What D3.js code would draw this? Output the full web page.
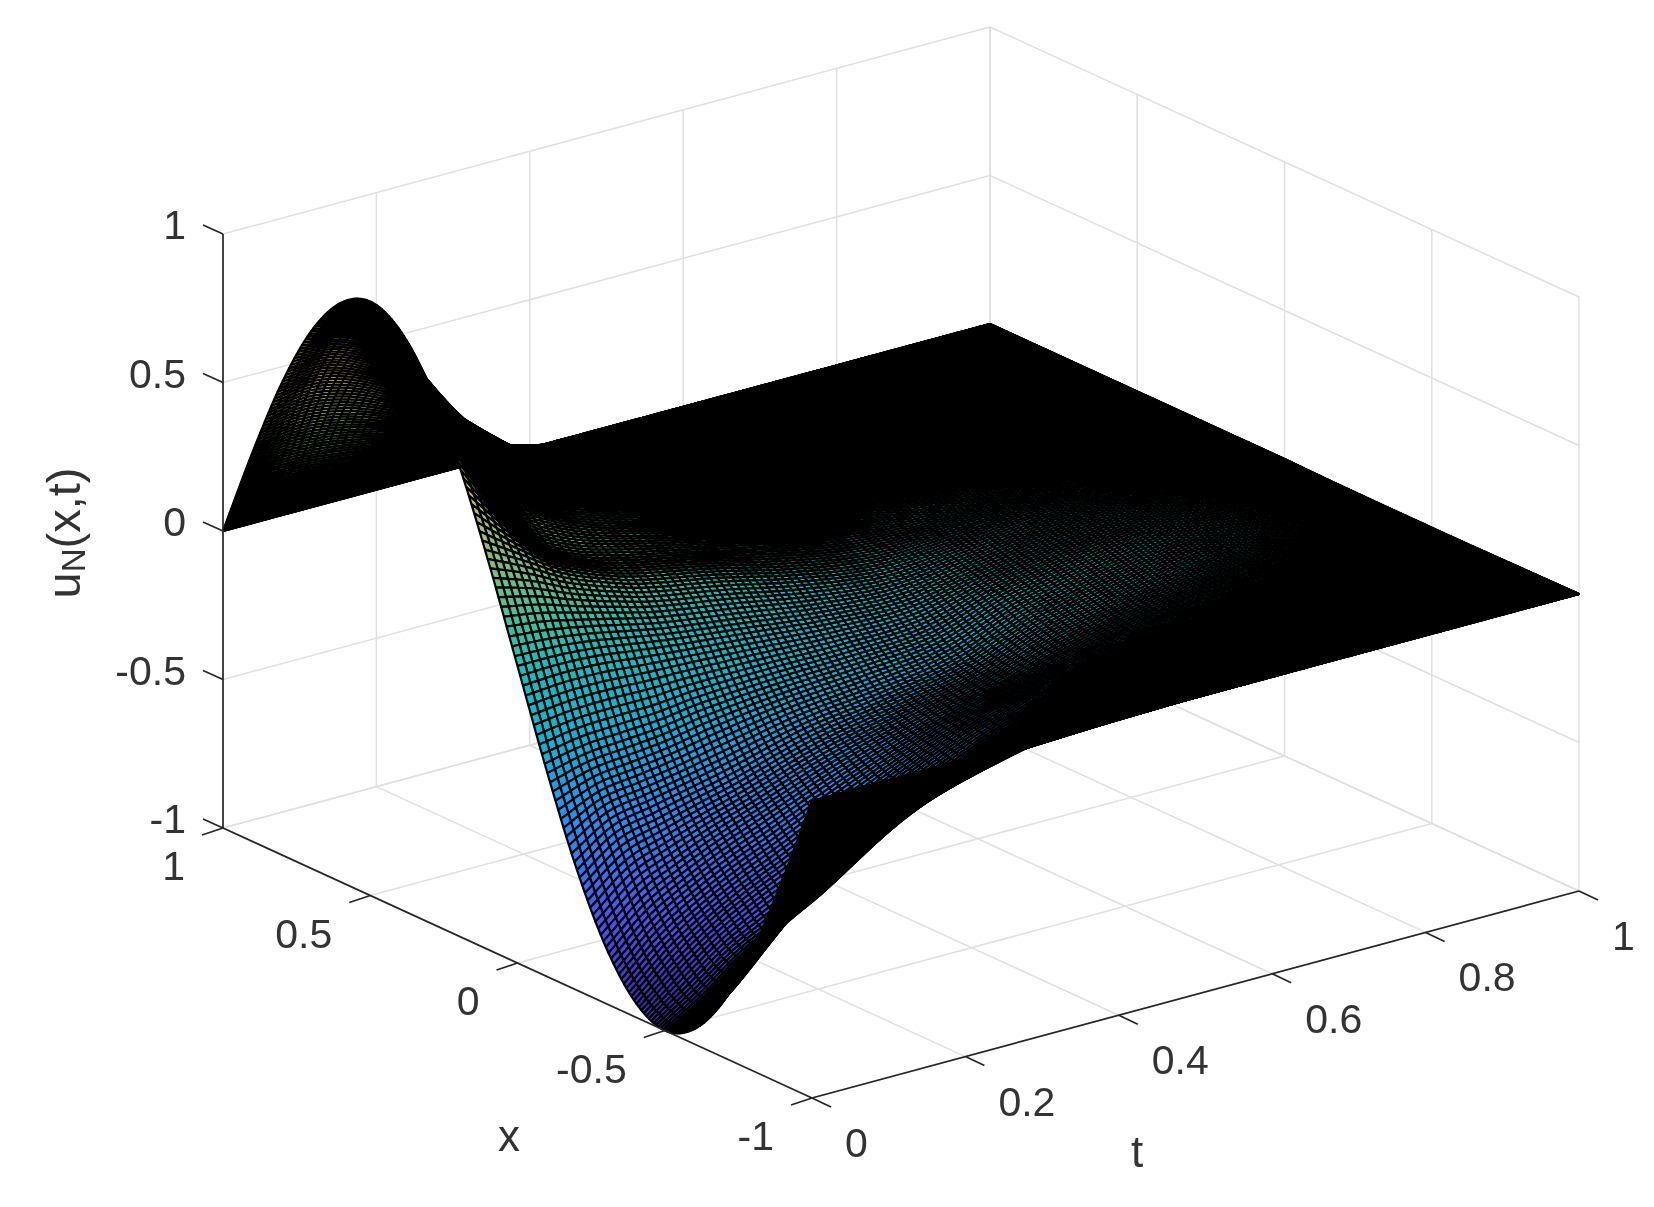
<!DOCTYPE html>
<html><head><meta charset="utf-8">
<script src="https://cdn.jsdelivr.net/npm/d3@7"></script>
<style>html,body{margin:0;padding:0;background:#fff}svg{display:block;filter:blur(.6px)}text{font-family:"Liberation Sans",Arial,sans-serif;fill:#333}</style>
</head><body><svg id="c" width="1654" height="1207"></svg>
<script>
const xValues=[1,.9,.8,.7,.6,.5,.4,.3,.2,.1,0,-.1,-.2,-.3,-.4,-.5,-.6,-.7,-.8,-.9,-1];
const tValues=[0,.05,.1,.15,.2,.3,.4,.5,.6,.8,1];
const uRows=[
[0,.31,.59,.81,.95,1,.95,.81,.59,.31,0,-.31,-.59,-.81,-.95,-1,-.95,-.81,-.59,-.31,0],
[0,.33,.60,.78,.85,.76,.64,.53,.40,.25,0,-.28,-.5,-.7,-.84,-.92,-.85,-.66,-.46,-.26,0],
[0,.32,.56,.68,.66,.56,.46,.36,.26,.18,-.01,-.27,-.47,-.63,-.75,-.82,-.72,-.55,-.36,-.18,0],
[0,.29,.48,.50,.48,.41,.33,.27,.19,.13,-.03,-.26,-.44,-.57,-.68,-.75,-.60,-.44,-.27,-.13,0],
[0,.25,.37,.37,.34,.28,.26,.21,.15,.09,-.05,-.24,-.41,-.52,-.62,-.68,-.52,-.36,-.21,-.10,0],
[0,.13,.16,.17,.14,.15,.16,.13,.09,.04,-.08,-.22,-.34,-.42,-.48,-.50,-.40,-.28,-.17,-.09,0],
[0,.06,.07,.06,.05,.06,.07,.06,.03,-.02,-.11,-.21,-.30,-.34,-.36,-.37,-.32,-.23,-.15,-.08,0],
[0,.03,.04,.03,.02,.01,.01,0,-.02,-.06,-.12,-.19,-.25,-.27,-.27,-.27,-.25,-.19,-.12,-.07,0],
[0,.02,.02,.01,.005,0,0,-.01,-.03,-.05,-.08,-.11,-.15,-.18,-.19,-.19,-.18,-.15,-.1,-.05,0],
[0,.005,.005,0,0,0,0,0,0,-.005,-.012,-.025,-.045,-.065,-.075,-.08,-.075,-.06,-.04,-.02,0],
[0,0,0,0,0,0,0,0,0,0,0,-.002,-.003,-.004,-.004,-.004,-.004,-.003,-.002,-.001,0]];
const xTicks=[1,.5,0,-.5,-1], xTickLabels=["1","0.5","0","-0.5","-1"];
const tTicks=[0,.2,.4,.6,.8,1], tTickLabels=["0","0.2","0.4","0.6","0.8","1"];
const zTicks=[1,.5,0,-.5,-1], zTickLabels=["1","0.5","0","-0.5","-1"];
const parulaStops=["#3e26a8","#4852f4","#2e87f7","#12b1d6","#1abfb8","#71bf80","#cbbd54","#feC338","#f9fb15"];

const sx=d3.scaleLinear().domain([1,-1]).range([0,1]);
const st=d3.scaleLinear().domain([0,1]).range([0,1]);
const sz=d3.scaleLinear().domain([-1,1]).range([0,1]);
const O=[223,828],VX=[589,270],VT=[767,-207],VZ=[0,-594];
const P=(x,t,z)=>[O[0]+sx(x)*VX[0]+st(t)*VT[0]+sz(z)*VZ[0],O[1]+sx(x)*VX[1]+st(t)*VT[1]+sz(z)*VZ[1]];
const color=d3.scaleLinear().domain(parulaStops.map((_,i)=>-1+2*i/(parulaStops.length-1))).range(parulaStops).interpolate(d3.interpolateRgb);

function cubic(xs,ys,v){
  let i=Math.min(d3.bisectRight(xs,v)-1,xs.length-2);if(i<0)i=0;
  const tan=k=>k===0?(ys[1]-ys[0])/(xs[1]-xs[0]):k===xs.length-1?(ys[k]-ys[k-1])/(xs[k]-xs[k-1]):(ys[k+1]-ys[k-1])/(xs[k+1]-xs[k-1]);
  const h=xs[i+1]-xs[i],s=(v-xs[i])/h,s2=s*s,s3=s2*s;
  return (2*s3-3*s2+1)*ys[i]+(s3-2*s2+s)*h*tan(i)+(-2*s3+3*s2)*ys[i+1]+(s3-s2)*h*tan(i+1);
}
const NX=340,NT=160;
const xAsc=xValues.slice().reverse();
const meshX=d3.range(NX+1).map(i=>Math.cos(Math.PI*i/NX));
const meshT=d3.range(NT+1).map(j=>Math.sin(Math.PI/2*(NT-j)/NT));
const Z=meshX.map(()=>[]);
meshT.forEach((t,j)=>{
  const rowAsc=xAsc.map((_,k)=>cubic(tValues,uRows.map(r=>r[xValues.length-1-k]),t));
  meshX.forEach((x,i)=>{Z[i][j]=cubic(xAsc,rowAsc,x);});
});
const cells=[];
for(let i=0;i<NX;i++)for(let j=0;j<NT;j++)cells.push({i,j});

const svg=d3.select("#c");
const grid=svg.append("g").attr("stroke","#e0e0e0").attr("stroke-width",1.5).attr("fill","none");
const gl=(a,b)=>grid.append("line").attr("x1",a[0]).attr("y1",a[1]).attr("x2",b[0]).attr("y2",b[1]);
zTicks.forEach(z=>{gl(P(1,0,z),P(1,1,z));gl(P(1,1,z),P(-1,1,z));});
tTicks.forEach(t=>{gl(P(1,t,-1),P(1,t,1));gl(P(1,t,-1),P(-1,t,-1));});
xTicks.forEach(x=>{gl(P(x,1,-1),P(x,1,1));gl(P(x,0,-1),P(x,1,-1));});

const L=d3.line();
svg.append("g").selectAll("path").data(cells).join("path")
 .attr("d",c=>{const xa=meshX[c.i],xb=meshX[c.i+1],ta=meshT[c.j],tb=meshT[c.j+1];
   return L([P(xa,ta,Z[c.i][c.j]),P(xa,tb,Z[c.i][c.j+1]),P(xb,tb,Z[c.i+1][c.j+1]),P(xb,ta,Z[c.i+1][c.j])])+"Z";})
 .attr("fill",c=>color((Z[c.i][c.j]+Z[c.i][c.j+1]+Z[c.i+1][c.j+1]+Z[c.i+1][c.j])/4))
 .attr("stroke","#000").attr("stroke-width",2.2).attr("stroke-linejoin","bevel");

const ax=svg.append("g").attr("stroke","#262626").attr("stroke-width",1.7).attr("fill","none");
const al=(a,b)=>ax.append("line").attr("x1",a[0]).attr("y1",a[1]).attr("x2",b[0]).attr("y2",b[1]);
al(P(1,0,-1),P(1,0,1));al(P(1,0,-1),P(-1,0,-1));al(P(-1,0,-1),P(-1,1,-1));
const add=(p,d)=>[p[0]+d[0],p[1]+d[1]];
zTicks.forEach(z=>{const p=P(1,0,z);al(p,add(p,[-20,-9]));});
xTicks.forEach(x=>{const p=P(x,0,-1);al(p,add(p,[-21,7]));});
tTicks.forEach(t=>{const p=P(-1,t,-1);al(p,add(p,[19,9]));});

const FS=41;
const T=(s,x,y,a,f)=>svg.append("text").attr("x",x).attr("y",y).attr("text-anchor",a||"middle").attr("dominant-baseline","central").attr("font-size",f||FS).text(s);
zTicks.forEach((z,i)=>{const p=P(1,0,z);T(zTickLabels[i],p[0]-37,p[1]-9,"end");});
xTicks.forEach((x,i)=>{const p=P(x,0,-1);T(xTickLabels[i],p[0]-38,p[1]+38,"end");});
tTicks.forEach((t,i)=>{const p=P(-1,t,-1);T(tTickLabels[i],p[0]+33,p[1]+45,"start");});
T("x",509,1135,"middle",44);
T("t",1137,1151,"middle",44);
const yl=svg.append("text").attr("transform","translate(63,533) rotate(-90)").attr("text-anchor","middle").attr("dominant-baseline","central").attr("font-size",47);
yl.append("tspan").text("u");
yl.append("tspan").attr("font-size",33).attr("dy",10).text("N");
yl.append("tspan").attr("dy",-10).text("(x,t)");
</script></body></html>
